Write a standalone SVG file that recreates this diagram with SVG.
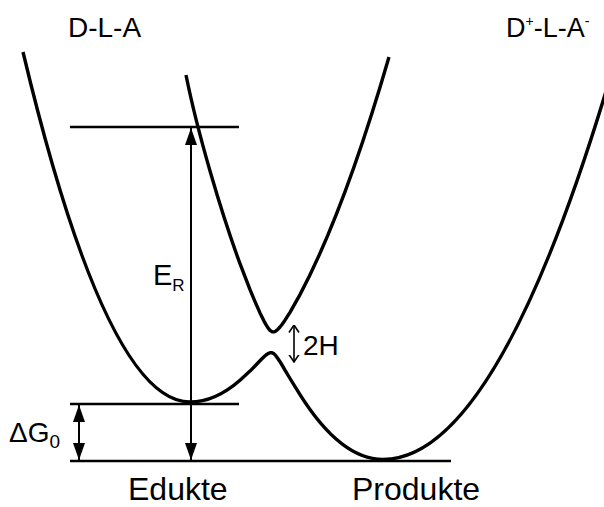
<svg xmlns="http://www.w3.org/2000/svg" width="604" height="507" viewBox="0 0 604 507">
<style>
text{font-family:"Liberation Sans",Arial,sans-serif;fill:#000}
.curve{fill:none;stroke:#000;stroke-width:3.4;stroke-linejoin:round;stroke-linecap:butt}
.level{fill:none;stroke:#000;stroke-width:2.4}
.arr{fill:none;stroke:#000;stroke-width:2;marker-start:url(#head);marker-end:url(#head)}
.thin{fill:none;stroke:#000;stroke-width:1.6;marker-start:url(#open);marker-end:url(#open)}
</style>
<defs>
<marker id="head" viewBox="0 0 17 12" refX="17" refY="6" markerWidth="17" markerHeight="12" markerUnits="userSpaceOnUse" orient="auto-start-reverse">
<path d="M0,0 L17,6 L0,12 z" fill="#000"/>
</marker>
<marker id="open" viewBox="0 0 8 12" refX="7.5" refY="6" markerWidth="8" markerHeight="12" markerUnits="userSpaceOnUse" orient="auto-start-reverse">
<path d="M0,1 L7.5,6 L0,11" fill="none" stroke="#000" stroke-width="1.6"/>
</marker>
</defs>
<rect width="604" height="507" fill="#fff"/>
<g id="curves">
<path id="lower-branch" class="curve" d="M23,52 Q106.5,402 190,402 Q215,402 240,380.2 L250,371.1 L255,366.0 L260,360.8 L264,356.8 L266,355.0 L268,353.6 L270,352.7 L272,352.7 L274,353.8 L276,355.9 L278,358.7 L280,361.7 L282,365.0 L285,370.1 L290,378.5 L300,394.7 Q340.8,459.5 383,459.5 Q496.5,459.5 610,78"/>
<path id="upper-branch" class="curve" d="M186,75 C198,135 222,214.7 240,263.7 L250,289.6 L255,301.6 L260,312.9 L264,321.1 L266,324.7 L268,327.9 L270,330.3 L272,331.7 L274,331.9 L276,330.9 L278,329.2 L280,327.0 L282,324.5 L285,320.2 L290,312.3 L300,294.6 Q344.4,210.7 389,57"/>
</g>
<g id="levels">
<line class="level" x1="70" y1="127" x2="239" y2="127"/>
<line class="level" x1="70" y1="404" x2="239" y2="404"/>
<line class="level" x1="70" y1="461" x2="451" y2="461"/>
</g>
<g id="connectors">
<line id="arrow-ER" class="arr" x1="191" y1="128" x2="191" y2="460"/>
<line id="arrow-dG" class="arr" x1="79" y1="405" x2="79" y2="460"/>
<line id="arrow-2H" class="thin" x1="294" y1="325" x2="294" y2="362"/>
</g>
<g id="labels">
<text id="label-DLA" x="68" y="37" font-size="28">D-L-A</text>
<text id="label-DLA-ion" x="506" y="37" font-size="27">D<tspan font-size="14" dy="-11">+</tspan><tspan dy="11">-L-A</tspan><tspan font-size="14" dy="-11">-</tspan></text>
<text id="label-ER" x="153" y="285" font-size="29">E<tspan font-size="17" dy="6">R</tspan></text>
<text id="label-dG" x="9" y="442" font-size="28">ΔG<tspan font-size="19" dy="6">0</tspan></text>
<text id="label-2H" x="303" y="355" font-size="28">2H</text>
<text id="label-edukte" x="128" y="500" font-size="32">Edukte</text>
<text id="label-produkte" x="352" y="500" font-size="32">Produkte</text>
</g>
</svg>
